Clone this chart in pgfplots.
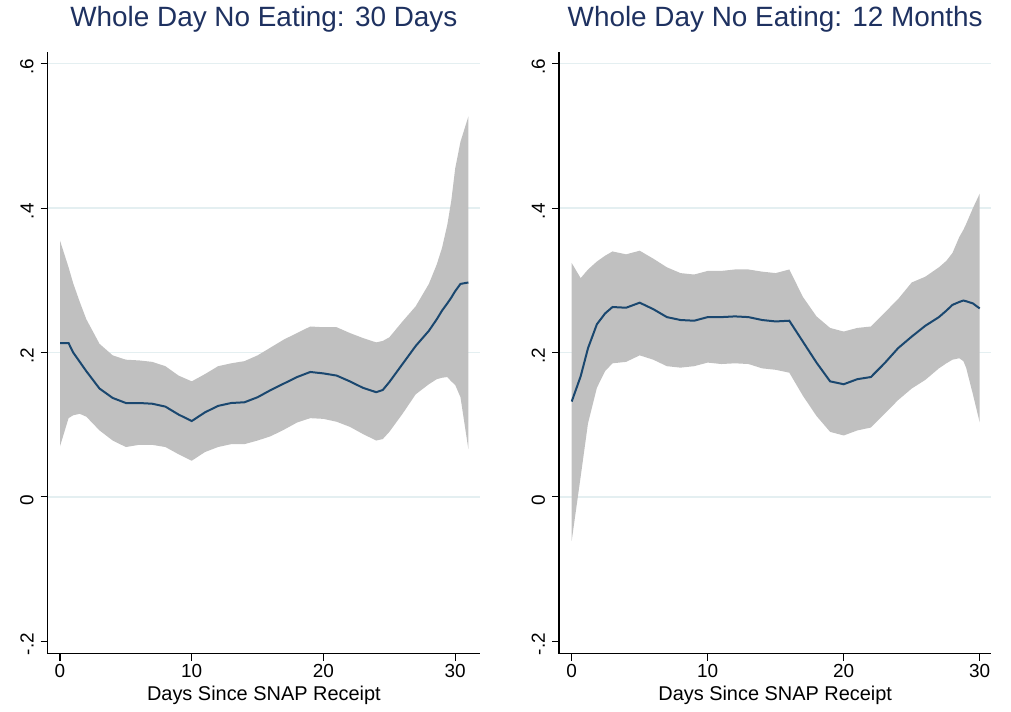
\documentclass[border=0pt]{standalone}
\usepackage{pgfplots}
\pgfplotsset{compat=1.18}
\usepackage{pgfplotstable}
\usepgfplotslibrary{fillbetween}
\usepackage{fontspec}
\setmainfont{Liberation Sans}
\definecolor{stnavy}{HTML}{1A476F}
\definecolor{titlec}{HTML}{1E3160}
\definecolor{bandc}{HTML}{C0C0C0}
\definecolor{gridc}{HTML}{E4EFF1}

\pgfplotstableread{
x lo mid hi
0 0.070 0.213 0.355
0.65 0.109 0.213 0.318
1 0.113 0.200 0.296
1.5 0.115 0.187 0.270
2 0.111 0.174 0.246
3 0.092 0.150 0.212
4 0.078 0.137 0.196
5 0.069 0.130 0.190
6 0.072 0.130 0.189
7 0.072 0.129 0.187
8 0.069 0.125 0.181
9 0.059 0.114 0.168
10 0.050 0.105 0.160
11 0.062 0.117 0.170
12 0.069 0.126 0.181
13 0.073 0.130 0.185
14 0.073 0.131 0.188
15 0.078 0.138 0.196
16 0.084 0.148 0.207
17 0.093 0.157 0.218
18 0.103 0.166 0.227
19 0.109 0.173 0.236
20 0.108 0.171 0.235
21 0.104 0.168 0.235
22 0.097 0.160 0.227
23 0.087 0.151 0.220
24 0.078 0.145 0.214
24.5 0.080 0.148 0.216
25 0.090 0.159 0.221
26 0.115 0.184 0.243
27 0.142 0.209 0.264
28 0.156 0.230 0.295
28.6 0.163 0.246 0.322
29 0.165 0.258 0.345
29.4 0.166 0.268 0.377
29.7 0.160 0.276 0.410
30 0.155 0.285 0.455
30.4 0.138 0.295 0.492
31 0.066 0.297 0.527
}\leftdata

\pgfplotstableread{
x lo mid hi
0 -0.061 0.132 0.324
0.66 0.028 0.167 0.303
1.2 0.102 0.206 0.315
1.85 0.151 0.239 0.326
2.45 0.174 0.254 0.334
3 0.185 0.263 0.340
4 0.187 0.262 0.336
5 0.196 0.269 0.341
6 0.190 0.260 0.330
7 0.181 0.249 0.318
8 0.179 0.245 0.310
9 0.181 0.244 0.308
10 0.186 0.249 0.313
11 0.184 0.249 0.313
12 0.185 0.250 0.315
13 0.184 0.249 0.315
14 0.178 0.245 0.312
15 0.176 0.243 0.310
16 0.172 0.244 0.315
17 0.140 0.215 0.277
18 0.112 0.186 0.250
19 0.090 0.160 0.234
20 0.085 0.156 0.229
21 0.092 0.163 0.234
22 0.096 0.166 0.236
23 0.115 0.185 0.255
24 0.134 0.206 0.274
25 0.150 0.222 0.297
26 0.162 0.237 0.305
27 0.178 0.249 0.318
27.55 0.185 0.258 0.327
28 0.190 0.266 0.338
28.5 0.192 0.270 0.360
28.8 0.188 0.272 0.370
29.0 0.179 0.271 0.378
29.5 0.142 0.268 0.400
30 0.103 0.261 0.420
}\rightdata

\pgfplotsset{
  panel/.style={
    scale only axis, width=216.2bp, height=301bp,
    axis lines=left,
    axis line style={-, line width=0.6bp, black},
    ymin=-0.2175, ymax=0.6166,
    ytick={0,0.2,0.4,0.6},
    yticklabels={0,.2,.4,.6},
    extra y ticks={-0.2},
    extra y tick labels={-.2},
    extra y tick style={grid=none},
    xtick={0,10,20,30},
    xticklabels={0,10,20,30},
    tick align=outside, major tick length=3.5bp,
    tick style={line width=0.6bp, black},
    ymajorgrids, grid style={gridc, line width=0.7bp},
    yticklabel style={rotate=90, anchor=south, xshift=-1.5bp, font=\fontsize{9.5}{11}\selectfont},
    xticklabel style={yshift=2bp, font=\fontsize{9.5}{11}\selectfont},
    title style={font=\fontsize{14}{16}\selectfont, color=titlec, at={(0.5,1)}, anchor=base, yshift=6.5bp},
    xlabel={Days Since SNAP Receipt},
    xlabel style={font=\fontsize{10}{12}\selectfont, at={(0.5,0)}, anchor=base, yshift=-23.5bp},
  }
}

\begin{document}
\begin{tikzpicture}
\begin{axis}[panel, at={(0,0)}, anchor=south west,
  xmin=-0.934, xmax=31.89,
  title={Whole Day No Eating: 30 Days}]
  \addplot[draw=none, name path=hiL, forget plot] table[x=x,y=hi]{\leftdata};
  \addplot[draw=none, name path=loL, forget plot] table[x=x,y=lo]{\leftdata};
  \addplot[bandc, draw=none, forget plot] fill between[of=hiL and loL];
  \addplot[stnavy, line width=1bp, mark=none] table[x=x,y=mid]{\leftdata};
\end{axis}
\begin{axis}[panel, at={(255.65bp,0)}, anchor=south west,
  xmin=-0.933, xmax=30.86,
  title={Whole Day No Eating: 12 Months}]
  \addplot[draw=none, name path=hiR, forget plot] table[x=x,y=hi]{\rightdata};
  \addplot[draw=none, name path=loR, forget plot] table[x=x,y=lo]{\rightdata};
  \addplot[bandc, draw=none, forget plot] fill between[of=hiR and loR];
  \addplot[stnavy, line width=1bp, mark=none] table[x=x,y=mid]{\rightdata};
\end{axis}
\path (-23.85bp,-27.85bp) rectangle (481.65bp,324.65bp);
\end{tikzpicture}
\end{document}
